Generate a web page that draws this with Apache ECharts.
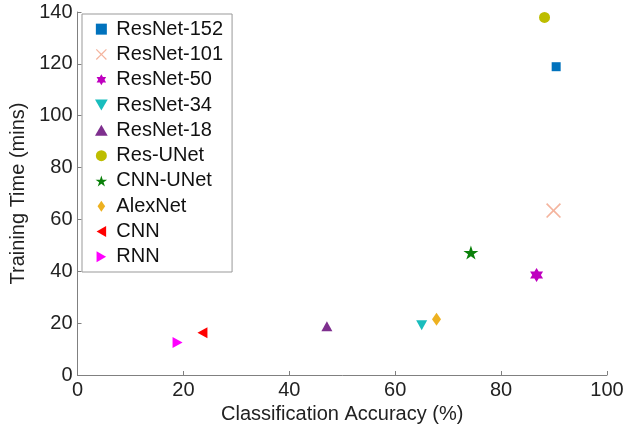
<!DOCTYPE html>
<html>
<head>
<meta charset="utf-8">
<script src="https://cdn.jsdelivr.net/npm/echarts@6/dist/echarts.min.js"></script>
<style>
  html, body { margin: 0; padding: 0; background: #fff; }
  #chart { width: 641px; height: 430px; }
</style>
</head>
<body>
<div id="chart"></div>
<script>
// Model names, accuracy (%) and training time (mins)
const models = ['ResNet-152', 'ResNet-101', 'ResNet-50', 'ResNet-34', 'ResNet-18',
                'Res-UNet', 'CNN-UNet', 'AlexNet', 'CNN', 'RNN'];
const accuracy = [90.4, 89.9, 86.7, 65.0, 47.1, 88.2, 74.3, 67.8, 23.6, 18.9];
const trainTime = [118.9, 63.4, 38.6, 19.2, 18.8, 137.9, 47.2, 21.5, 16.3, 12.5];

const xTicks = [0, 20, 40, 60, 80, 100];
const yTicks = [0, 20, 40, 60, 80, 100, 120, 140];

// Marker shapes (paths keep their proportions inside the legend too)
const SHAPES = {
  square: 'path://M0,0L10,0L10,10L0,10Z',
  cross: 'path://M0,0.8L0.8,0L5,4.2L9.2,0L10,0.8L5.8,5L10,9.2L9.2,10L5,5.8L0.8,10L0,9.2L4.2,5Z',
  hexagram: 'path://M0,-10L2.887,-5L8.66,-5L5.774,0L8.66,5L2.887,5L0,10L-2.887,5L-8.66,5L-5.774,0L-8.66,-5L-2.887,-5Z',
  triDown: 'path://M0,0L10,0L5,8.66Z',
  triUp: 'path://M5,0L10,8.66L0,8.66Z',
  circle: 'circle',
  star: 'path://M0,-10L2.245,-3.09L9.511,-3.09L3.633,1.18L5.878,8.09L0,3.82L-5.878,8.09L-3.633,1.18L-9.511,-3.09L-2.245,-3.09Z',
  diamond: 'path://M4.5,0L9,6.5L4.5,13L0,6.5Z',
  triLeft: 'path://M0,5L8.66,0L8.66,10Z',
  triRight: 'path://M0,0L8.66,5L0,10Z'
};
const markerShape = ['square', 'cross', 'hexagram', 'triDown', 'triUp',
                     'circle', 'star', 'diamond', 'triLeft', 'triRight'];
const markerSize = [[9, 9], [15, 15], [13, 14], [11, 10], [11, 10],
                    [11, 11], [15, 14], [9, 13], [10, 11], [10, 11]];
const markerColor = ['#0072BD', '#F4B49E', '#BF00BF', '#19BDBD', '#7E2F8E',
                     '#BDBD00', '#0A800A', '#EDB120', '#FF0000', '#FF00FF'];

const FONT = '"Liberation Sans", Arial, sans-serif';
const AXIS_GRAY = '#808080';

const series = models.map((name, i) => ({
  name: name,
  type: 'scatter',
  data: [[accuracy[i], trainTime[i]]],
  symbol: SHAPES[markerShape[i]],
  symbolSize: markerSize[i],
  symbolKeepAspect: false,
  itemStyle: { color: markerColor[i], opacity: 1 },
  emphasis: { disabled: true },
  z: 3
}));

const chart = echarts.init(document.getElementById('chart'), null, { renderer: 'canvas' });
chart.setOption({
  animation: false,
  backgroundColor: '#ffffff',
  textStyle: { fontFamily: FONT },
  grid: { left: 77.5, right: 34, top: 12, bottom: 55, containLabel: false },
  xAxis: {
    type: 'value',
    min: xTicks[0],
    max: xTicks[xTicks.length - 1],
    interval: xTicks[1] - xTicks[0],
    name: 'Classification Accuracy (%)',
    nameLocation: 'middle',
    nameGap: 25,
    nameTextStyle: { fontFamily: FONT, fontSize: 20, color: '#222' },
    axisLine: { show: true, onZero: false, lineStyle: { color: AXIS_GRAY, width: 1 } },
    axisTick: { show: true, inside: true, length: 4, lineStyle: { color: AXIS_GRAY } },
    axisLabel: { fontFamily: FONT, fontSize: 20, color: '#222', margin: 5 },
    splitLine: { show: false }
  },
  yAxis: {
    type: 'value',
    min: yTicks[0],
    max: yTicks[yTicks.length - 1],
    interval: yTicks[1] - yTicks[0],
    name: 'Training Time (mins)',
    nameLocation: 'middle',
    nameGap: 43,
    nameTextStyle: { fontFamily: FONT, fontSize: 20, color: '#222' },
    axisLine: { show: true, onZero: false, lineStyle: { color: AXIS_GRAY, width: 1 } },
    axisTick: { show: true, inside: true, length: 4, lineStyle: { color: AXIS_GRAY } },
    axisLabel: { fontFamily: FONT, fontSize: 20, color: '#222', margin: 5 },
    splitLine: { show: false }
  },
  legend: {
    orient: 'vertical',
    left: 82,
    top: 14,
    padding: [5, 9, 5, 13],
    itemGap: 5,
    itemWidth: 20,
    itemHeight: 11,
    backgroundColor: '#ffffff',
    borderColor: '#999999',
    borderWidth: 1,
    selectedMode: false,
    symbolKeepAspect: true,
    textStyle: { fontFamily: FONT, fontSize: 20, color: '#111', lineHeight: 20.3 },
    data: models
  },
  series: series
});
</script>
</body>
</html>
